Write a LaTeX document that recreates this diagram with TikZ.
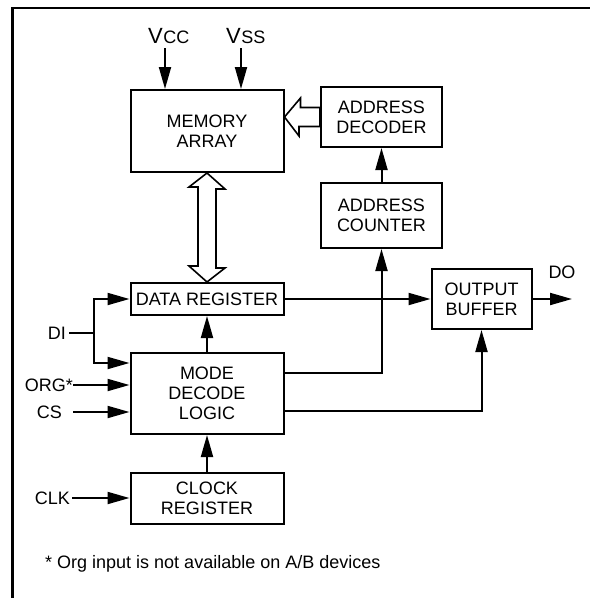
\documentclass[tikz,border=0pt]{standalone}
\usepackage{fontspec}
\setmainfont{Liberation Sans}
\usetikzlibrary{arrows.meta,positioning,calc}

\begin{document}
\begin{tikzpicture}[x=1pt, y=-1pt,
  blk/.style={draw, line width=2pt, inner sep=0pt, align=center,
    font=\fontsize{18}{20}\selectfont},
  lbl/.style={inner sep=0pt, font=\fontsize{18}{20}\selectfont},
  arr/.style={line width=2pt, -{Triangle[length=22pt, width=12pt]}},
  wire/.style={line width=2pt},
  hollow/.style={line width=1.6pt, line join=miter, fill=white},
]
  \useasboundingbox (0,0) rectangle (590,598);
  % Frame, cut at the right and at the bottom
  \draw[line width=2.2pt] (12.5,598) -- (12.5,8) -- (590,8);

  % Blocks
  \node[blk, minimum width=153pt, minimum height=82pt] (mem) at (207,131) {MEMORY\\ARRAY};
  \node[blk, minimum width=121pt, minimum height=60pt] (adec) at (381.5,117) {ADDRESS\\DECODER};
  \node[blk, minimum width=121pt, minimum height=65pt] (acnt) at (381.5,215.5) {ADDRESS\\COUNTER};
  \node[blk, minimum width=153pt, minimum height=32pt] (dreg) at (207,299) {DATA REGISTER};
  \node[blk, minimum width=100pt, minimum height=60pt] (obuf) at (481.5,299) {OUTPUT\\BUFFER};
  \node[blk, minimum width=153pt, minimum height=81pt] (mode) at (207,393.5) {MODE\\DECODE\\LOGIC};
  \node[blk, minimum width=153pt, minimum height=51pt] (clk) at (207,498) {CLOCK\\REGISTER};

  % Supply pins
  \node[lbl, anchor=base west] (vcc) at (148,43) {{\fontsize{22}{22}\selectfont V}\kern.5pt CC};
  \node[lbl, anchor=base west] (vss) at (226,43) {{\fontsize{22}{22}\selectfont V}\kern.5pt SS};
  \coordinate (vccin) at (165,48);
  \coordinate (vssin) at (241,48);
  \draw[arr] (vccin) -- (vccin |- mem.north);
  \draw[arr] (vssin) -- (vssin |- mem.north);

  % Address path
  \draw[arr] (acnt.north) -- (adec.south);
  \draw[hollow] (mem.east |- adec.west) -- ++(16,-19) -- ++(0,9.5)
    -- ([yshift=9.5pt]adec.west) -- ([yshift=-9.5pt]adec.west)
    -- ++(-21,0) -- ++(0,9.5) -- cycle;

  % Data bus between array and register
  \draw[hollow] (mem.south) -- ++(18,16) -- ++(-9,0) -- ++(0,79) -- ++(9,0)
    -- (dreg.north) -- ++(-18,-16) -- ++(9,0) -- ++(0,-79) -- ++(-9,0) -- cycle;

  % Data out
  \draw[arr] (dreg.east) -- (obuf.west);
  \coordinate (dout) at (572,299);
  \draw[arr] (obuf.east) -- (dout);
  \node[lbl] (dolbl) at (562,272.5) {DO};

  % Control from mode decode logic
  \draw[arr] (mode.north) -- (dreg.south);
  \draw[arr] ([yshift=20.5pt]mode.east) -| (acnt.south);
  \draw[arr] ([yshift=-17.5pt]mode.east) -| (obuf.south);
  \draw[arr] (clk.north) -- (mode.south);

  % Inputs
  \node[lbl, anchor=east] (di) at (66,333) {DI};
  \coordinate (diin) at (69,333);
  \coordinate (dij) at (94,333);
  \draw[wire] (diin) -- (dij);
  \draw[arr] (dij) |- (dreg.west);
  \draw[arr] (dij) |- ([yshift=30.5pt]mode.west);
  \node[lbl, anchor=east] (org) at (73,385) {ORG*};
  \draw[arr] (org.east) -- (org.east -| mode.west);
  \node[lbl, anchor=east] (cs) at (62,412) {CS};
  \coordinate (csin) at (73,412);
  \draw[arr] (csin) -- (csin -| mode.west);
  \node[lbl, anchor=east] (clkl) at (70,498) {CLK};
  \coordinate (clkin) at (72,498);
  \draw[arr] (clkin) -- (clk.west);

  % Footnote
  \node[lbl, anchor=base west] (note) at (45,568)
    {* Org input is not available on A/B devices};
\end{tikzpicture}
\end{document}
